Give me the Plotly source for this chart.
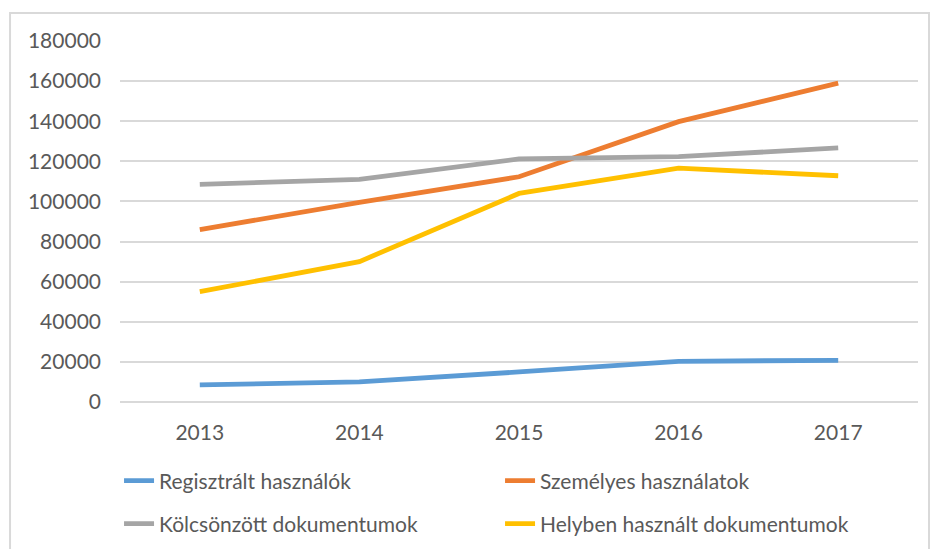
import plotly.graph_objects as go

years = ["2013", "2014", "2015", "2016", "2017"]
regisztralt = [8500, 10000, 15000, 20300, 20800]
szemelyes = [86000, 99500, 112300, 139800, 159000]
kolcsonzott = [108500, 111000, 121200, 122300, 126700]
helyben = [55000, 70000, 104000, 116600, 112800]
y_ticks = [0, 20000, 40000, 60000, 80000, 100000, 120000, 140000, 160000, 180000]

FONT = "Lato"
TXT = "#595959"
GRID = "#d9d9d9"

fig = go.Figure()
series = [
    ("Regisztrált használók", regisztralt, "#5b9bd5", "legend"),
    ("Személyes használatok", szemelyes, "#ed7d31", "legend"),
    ("Kölcsönzött dokumentumok", kolcsonzott, "#a5a5a5", "legend2"),
    ("Helyben használt dokumentumok", helyben, "#ffc000", "legend2"),
]
for name, vals, col, lg in series:
    fig.add_trace(go.Scatter(x=years, y=vals, name=name, mode="lines",
                             line=dict(color=col, width=4.8), legend=lg))

legend_common = dict(orientation="h", xanchor="left", yanchor="middle",
                     font=dict(family=FONT, size=21, color=TXT),
                     bgcolor="rgba(0,0,0,0)", entrywidth=336,
                     entrywidthmode="pixels", itemwidth=30)

fig.update_layout(
    width=936, height=549,
    margin=dict(l=120, r=18, t=41, b=147, autoexpand=False),
    paper_bgcolor="white", plot_bgcolor="white",
    font=dict(family=FONT, size=21, color=TXT),
    showlegend=True,
    legend=dict(x=-0.0012, y=-0.219, **legend_common),
    legend2=dict(x=-0.0012, y=-0.338, **legend_common),
    xaxis=dict(type="category", showgrid=False, zeroline=False,
               showline=False, ticks="", ticklabelstandoff=16,
               tickfont=dict(family=FONT, size=21, color=TXT),
               range=[-0.5, 4.5], fixedrange=True),
    yaxis=dict(range=[0, 180000], tickvals=y_ticks,
               ticktext=[str(v) for v in y_ticks],
               showgrid=True, gridcolor=GRID, gridwidth=1.5,
               zeroline=True, zerolinecolor=GRID, zerolinewidth=1.5,
               showline=False, ticks="", ticklabelstandoff=18,
               tickfont=dict(family=FONT, size=21, color=TXT),
               fixedrange=True),
    shapes=[dict(type="rect", xref="paper", yref="paper",
                 x0=-0.1378, x1=1.0138, y0=-0.45, y1=1.0776,
                 line=dict(color=GRID, width=2), fillcolor="rgba(0,0,0,0)",
                 layer="below")],
)

fig.write_html("out.html", config={"displayModeBar": False},
               post_script="document.body.style.margin='0px';")
